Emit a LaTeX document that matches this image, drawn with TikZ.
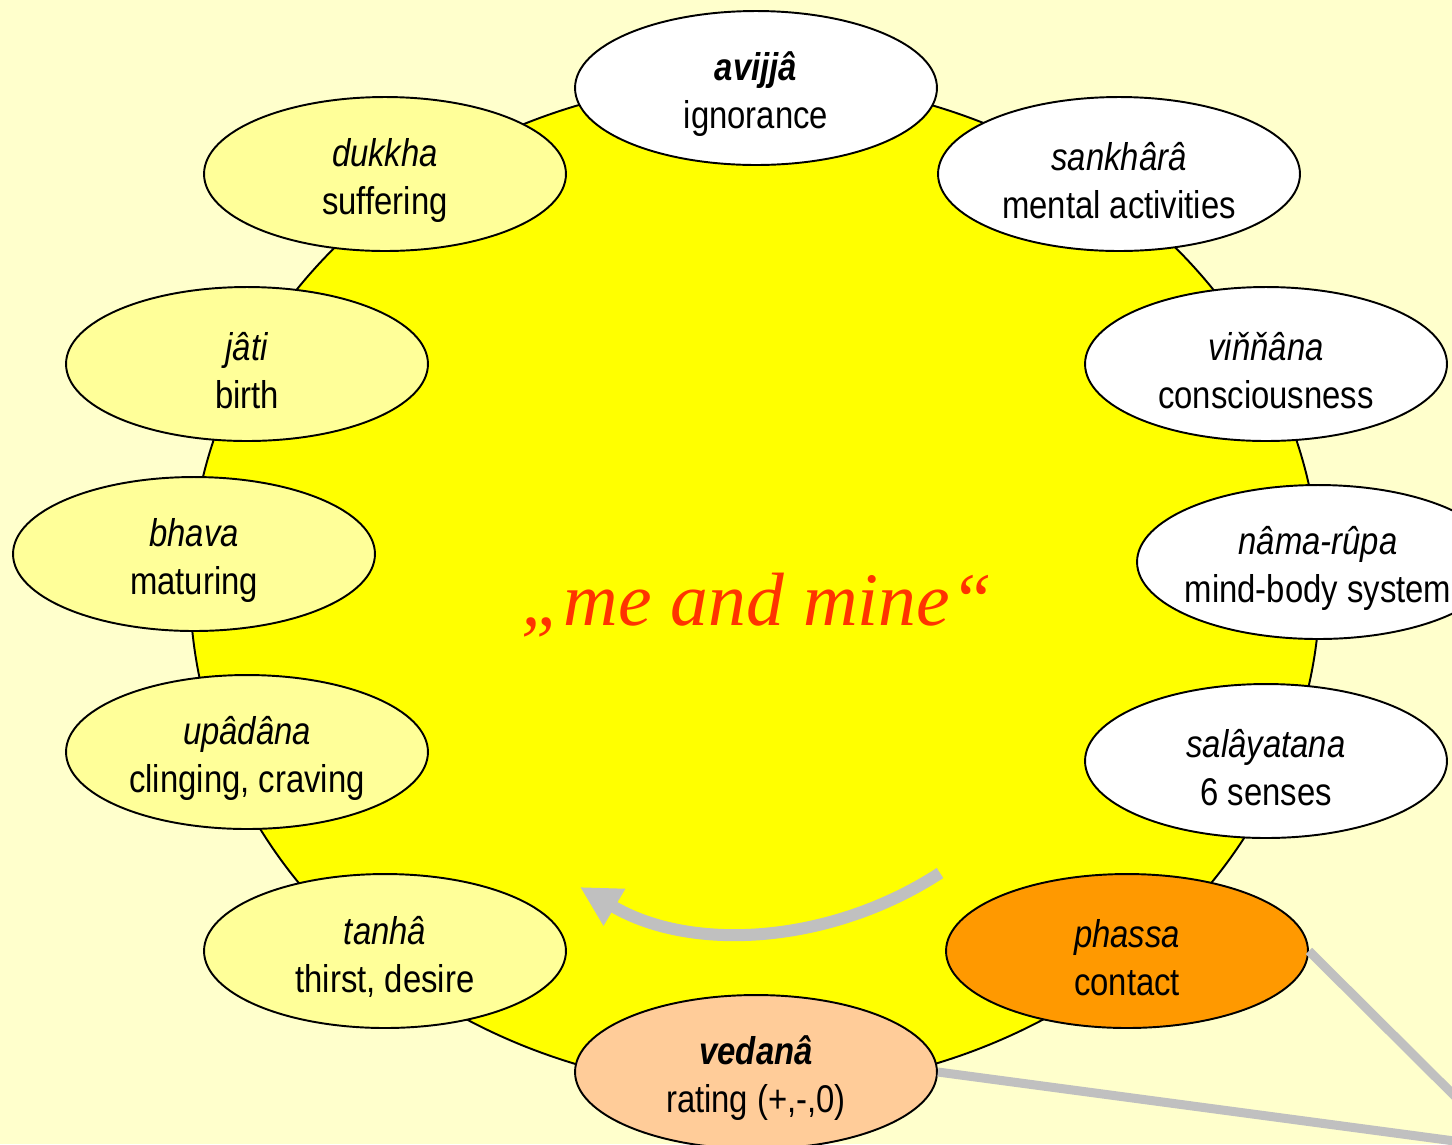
\documentclass[tikz,border=0pt]{standalone}
\usepackage{fontspec}
\setmainfont{Liberation Sans}[FakeStretch=0.85]
\newfontfamily\mefont{Liberation Serif}
\usetikzlibrary{shapes.geometric,arrows.meta}
\definecolor{paper}{HTML}{FFFFCC}
\definecolor{sun}{HTML}{FFFF00}
\definecolor{pale}{HTML}{FFFF99}
\definecolor{contact}{HTML}{FF9900}
\definecolor{rating}{HTML}{FFCC99}
\definecolor{mine}{HTML}{FF3300}
\definecolor{wire}{HTML}{C0C0C0}
\newcommand{\stagetext}[2]{\makebox[0pt]{\rule{0pt}{23pt}#1}\\\makebox[0pt]{#2}}

\begin{document}
\begin{tikzpicture}
	[x=0.02cm,y=-0.02cm,
	 stage/.style={ellipse,draw,line width=1.1pt,minimum width=7.24cm,minimum height=3.08cm,inner sep=0pt,align=center,font=\fontsize{22}{27.3}\selectfont},
	 wirel/.style={draw=wire,line width=0.18cm},
	 turn/.style={draw=wire,line width=0.24cm,-{Triangle[length=0.8cm,width=0.8cm]}}]
	\fill[paper] (0,0) rectangle (1452,1144);
	\clip (0,0) rectangle (1452,1144);
	\filldraw[fill=sun,draw=black,line width=1.1pt] (755,585) ellipse [x radius=565,y radius=505];
	\node[font=\mefont\itshape\fontsize{43}{50}\selectfont,text=mine,anchor=base] (me) at (757,625) {„me and mine“};
	\draw[turn] (940,873) .. controls (831,944) and (692,953) .. (580,887);
	
	\node[stage,fill=white] (avijja) at (756,88) {\stagetext{\textbf{\textit{avijjâ}}}{ignorance}};
	\node[stage,fill=white] (sankhara) at (1119,174) {\stagetext{\textit{sankhârâ}}{mental activities}};
	\node[stage,fill=white] (vinnana) at (1266,364) {\stagetext{\textit{viňňâna}}{consciousness}};
	\node[stage,fill=white] (namarupa) at (1318,562) {\stagetext{\textit{nâma-rûpa}}{mind-body system}};
	\node[stage,fill=white] (salayatana) at (1266,761) {\stagetext{\textit{salâyatana}}{6 senses}};
	\node[stage,fill=contact] (phassa) at (1127,951) {\stagetext{\textit{phassa}}{contact}};
	\node[stage,fill=rating] (vedana) at (756,1072) {\stagetext{\textbf{\textit{vedanâ}}}{rating (+,-,0)}};
	\node[stage,fill=pale] (tanha) at (385,951) {\stagetext{\textit{tanhâ}}{thirst, desire}};
	\node[stage,fill=pale] (upadana) at (247,752) {\stagetext{\textit{upâdâna}}{clinging, craving}};
	\node[stage,fill=pale] (bhava) at (194,554) {\stagetext{\textit{bhava}}{maturing}};
	\node[stage,fill=pale] (jati) at (247,364) {\stagetext{\textit{jâti}}{birth}};
	\node[stage,fill=pale] (dukkha) at (385,174) {\stagetext{\textit{dukkha}}{suffering}};
	
	\coordinate (out) at (1507,1148);
	\draw[wirel] (phassa.east) -- (out);
	\draw[wirel] (vedana.east) -- (out);
\end{tikzpicture}
\end{document}
